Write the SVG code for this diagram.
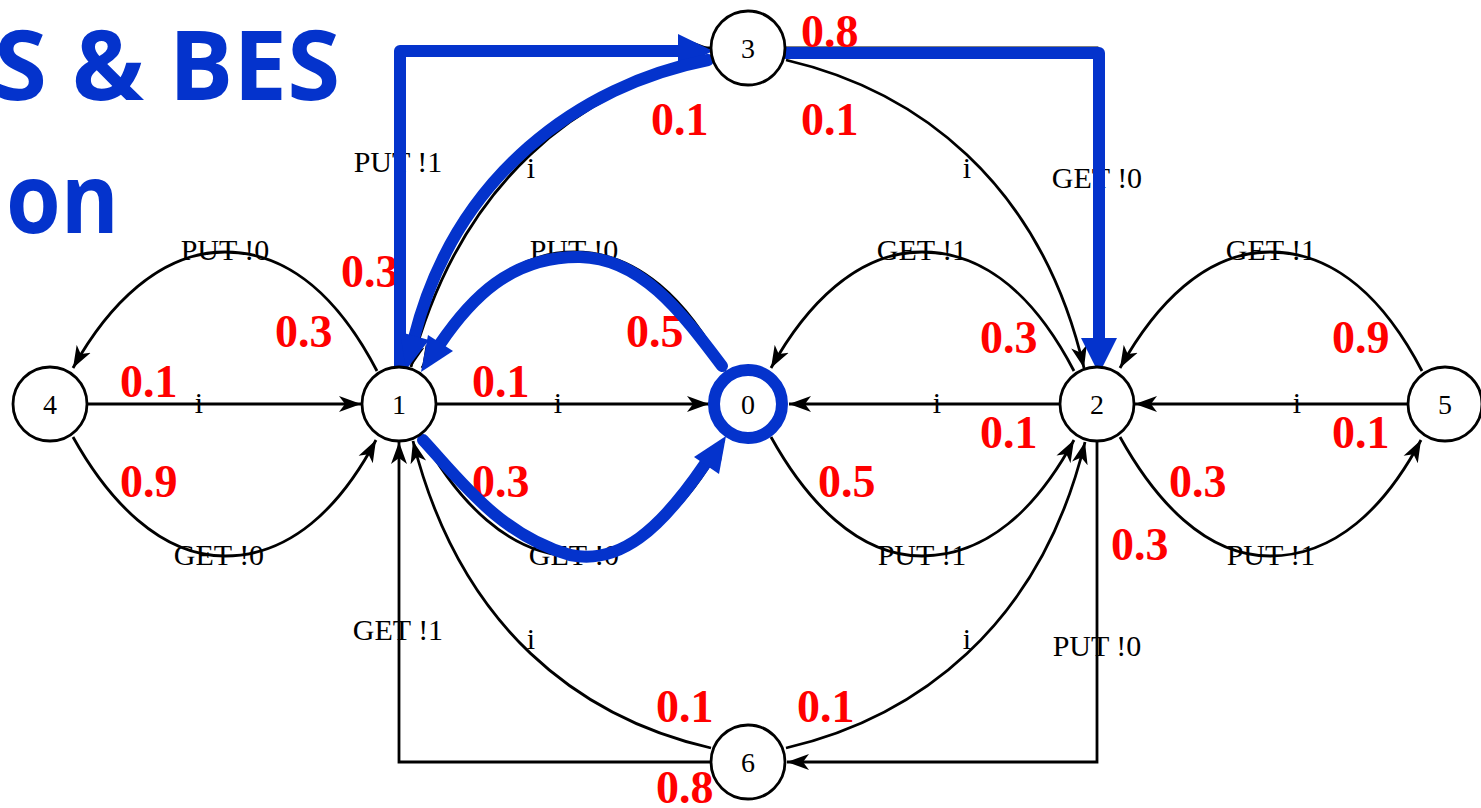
<svg xmlns="http://www.w3.org/2000/svg" width="1481" height="808" viewBox="0 0 1481 808">
<style>
.e{fill:none;stroke:#000;stroke-width:2.8}
.ea{fill:none;stroke:#000;stroke-width:2.8;marker-end:url(#ah)}
.b{fill:none;stroke:#0433cc;stroke-width:12;stroke-linecap:round;stroke-linejoin:round}
.bh{fill:#0433cc}
.n{fill:#fff;stroke:#000;stroke-width:2.8}
.nt{font-family:"Liberation Serif",serif;font-size:28px;fill:#000;text-anchor:middle}
.lb{font-family:"Liberation Serif",serif;font-size:30px;fill:#000;text-anchor:middle}
.p{font-family:"Liberation Serif",serif;font-size:46px;font-weight:bold;fill:#ff0000}
.t{font-family:"Open Sans",Lato,sans-serif;font-size:96px;font-weight:bold;fill:#0433cc}
</style>
<defs>
<marker id="ah" markerUnits="userSpaceOnUse" markerWidth="24" markerHeight="18" refX="22" refY="8" orient="auto" viewBox="0 0 24 16">
<path d="M0,0 L22,8 L0,16 L6,8 Z" fill="#000"/>
</marker>
</defs>
<rect width="1481" height="808" fill="#fff"/>
<g id="title">
<text class="t" x="340" y="100" text-anchor="end">S &amp; BES</text>
<text class="t" x="6" y="233" textLength="113" lengthAdjust="spacingAndGlyphs">on</text>
</g>
<g id="connectors">
<path class="ea" d="M88,404 L361,404"/>
<path class="ea" d="M377,371 C340,300 290,252 225,252 C160,252 108,305 73,368"/>
<path class="ea" d="M73,437 C108,500 160,556 225,556 C290,556 340,508 376,440"/>
<path class="ea" d="M436,404 L709,404"/>
<path class="ea" d="M725,371 C688,300 638,252 574,252 C509,252 457,305 422,368"/>
<path class="ea" d="M422,437 C457,500 509,556 574,556 C638,556 688,508 724,440"/>
<path class="ea" d="M1060,404 L789,404"/>
<path class="ea" d="M1074,371 C1037,300 987,252 922,252 C857,252 806,305 771,368"/>
<path class="ea" d="M771,437 C806,500 857,556 922,556 C987,556 1037,508 1074,440"/>
<path class="ea" d="M1408,404 L1135,404"/>
<path class="ea" d="M1422,371 C1385,300 1335,252 1270,252 C1205,252 1155,305 1120,368"/>
<path class="ea" d="M1120,437 C1155,500 1205,556 1270,556 C1335,556 1385,508 1421,440"/>
<path class="ea" d="M399,367 L399,48 L710,48"/>
<path class="ea" d="M711,60 C580,90 460,180 411,367"/>
<path class="ea" d="M786,48 L1097,48 L1097,366"/>
<path class="ea" d="M786,60 C915,90 1040,180 1084,368"/>
<path class="ea" d="M1097,441 L1097,762 L787,762"/>
<path class="ea" d="M710,762 L399,762 L399,442"/>
<path class="ea" d="M711,748 C580,718 460,628 413,441"/>
<path class="ea" d="M786,748 C915,718 1040,628 1085,442"/>
</g>
<g id="edge-labels">
<text class="lb" x="398" y="172">PUT !1</text>
<text class="lb" x="531" y="178">i</text>
<text class="lb" x="967" y="178">i</text>
<text class="lb" x="1097" y="188">GET !0</text>
<text class="lb" x="225" y="260">PUT !0</text>
<text class="lb" x="199" y="413">i</text>
<text class="lb" x="219" y="565">GET !0</text>
<text class="lb" x="574" y="260">PUT !0</text>
<text class="lb" x="558" y="413">i</text>
<text class="lb" x="574" y="565">GET !0</text>
<text class="lb" x="922" y="260">GET !1</text>
<text class="lb" x="937" y="413">i</text>
<text class="lb" x="922" y="565">PUT !1</text>
<text class="lb" x="1271" y="260">GET !1</text>
<text class="lb" x="1297" y="413">i</text>
<text class="lb" x="1271" y="565">PUT !1</text>
<text class="lb" x="398" y="640">GET !1</text>
<text class="lb" x="531" y="649">i</text>
<text class="lb" x="967" y="649">i</text>
<text class="lb" x="1097" y="656">PUT !0</text>
</g>
<g id="probabilities">
<text class="p" x="801" y="47">0.8</text>
<text class="p" x="651" y="135">0.1</text>
<text class="p" x="801" y="135">0.1</text>
<text class="p" x="341" y="287">0.3</text>
<text class="p" x="275" y="347">0.3</text>
<text class="p" x="120" y="397">0.1</text>
<text class="p" x="120" y="497">0.9</text>
<text class="p" x="626" y="347">0.5</text>
<text class="p" x="472" y="397">0.1</text>
<text class="p" x="472" y="497">0.3</text>
<text class="p" x="818" y="497">0.5</text>
<text class="p" x="980" y="353">0.3</text>
<text class="p" x="980" y="448">0.1</text>
<text class="p" x="1332" y="353">0.9</text>
<text class="p" x="1332" y="448">0.1</text>
<text class="p" x="1169" y="497">0.3</text>
<text class="p" x="1111" y="560">0.3</text>
<text class="p" x="656" y="722">0.1</text>
<text class="p" x="797" y="722">0.1</text>
<text class="p" x="656" y="803">0.8</text>
</g>
<g id="highlight">
<path class="b" d="M400,370 L400,51 L682,51"/>
<polygon class="bh" points="678,34 678,68 713,51"/>
<path class="b" d="M786,53 L1099,53 L1099,340"/>
<polygon class="bh" points="1081,338 1117,338 1099,374"/>
<path class="b" d="M708,60 C580,85 455,175 414,338"/>
<polygon class="bh" points="406,370 429,340 400,332"/>
<path class="b" d="M722,366 C680,310 640,258 580,257 C510,256 470,300 440,344"/>
<polygon class="bh" points="421,372 453,351 428,335"/>
<path class="b" d="M423,440 C460,480 500,535 570,555 C620,565 660,530 705,464"/>
<polygon class="bh" points="726,436 719,474 694,457"/>
</g>
<g id="node-4"><circle class="n" cx="50" cy="404" r="37"/><text class="nt" x="50" y="414">4</text></g>
<g id="node-1"><circle class="n" cx="399" cy="404" r="37"/><text class="nt" x="399" y="414">1</text></g>
<g id="node-0"><circle cx="748" cy="404" r="34" fill="#fff" stroke="#0433cc" stroke-width="12"/><text class="nt" x="748" y="414">0</text></g>
<g id="node-2"><circle class="n" cx="1097" cy="404" r="37"/><text class="nt" x="1097" y="414">2</text></g>
<g id="node-5"><circle class="n" cx="1445" cy="404" r="37"/><text class="nt" x="1445" y="414">5</text></g>
<g id="node-3"><circle class="n" cx="748" cy="48" r="37"/><text class="nt" x="748" y="58">3</text></g>
<g id="node-6"><circle class="n" cx="748" cy="762" r="37"/><text class="nt" x="748" y="772">6</text></g>
</svg>
